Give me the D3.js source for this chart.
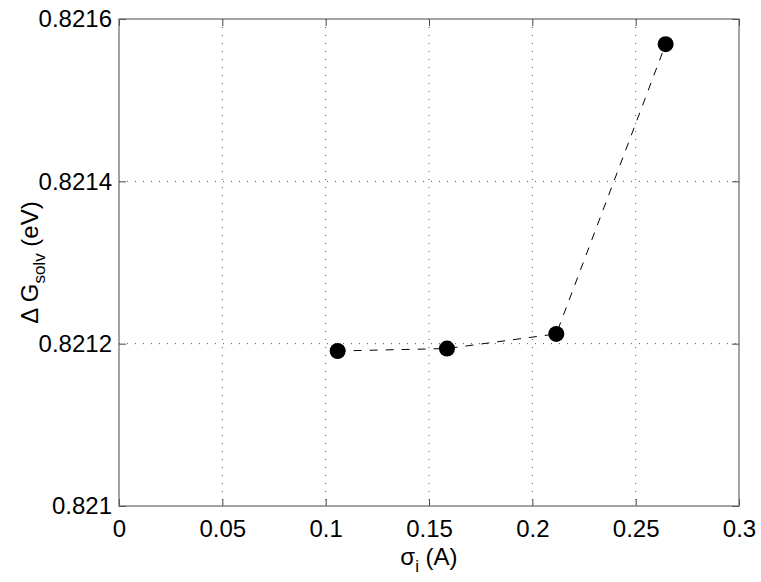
<!DOCTYPE html>
<html>
<head>
<meta charset="utf-8">
<script src="https://cdn.jsdelivr.net/npm/d3@7"></script>
<style>
  body { margin: 0; background: #fff; }
  text { font-family: "Liberation Sans", Arial, sans-serif; fill: #000; }
</style>
</head>
<body>
<svg></svg>
<script>
// sigma_i values (A) and solvation free energy (eV)
let sigma = [0.1058, 0.1587, 0.2116, 0.2645]
let dG = [0.821191, 0.821194, 0.821212, 0.821569]

let xTicks = [0, 0.05, 0.1, 0.15, 0.2, 0.25, 0.3]
let yTicks = [0.821, 0.8212, 0.8214, 0.8216]

var svg = d3.select("svg")
    .attr("width", 761)
    .attr("height", 582)

var margin = {top: 19, right: 22, bottom: 76, left: 119}
var w = 761 - margin.left - margin.right
var h = 582 - margin.top - margin.bottom

var g = svg.append("g")
    .attr("transform", `translate(${margin.left}, ${margin.top})`)

let scX = d3.scaleLinear().domain([0, 0.3]).range([0, w])
let scY = d3.scaleLinear().domain([0.821, 0.8216]).range([h, 0])

// dotted grid
g.append("g").selectAll("line")
    .data(xTicks.slice(1, -1)).enter().append("line")
    .attr("x1", d => scX(d)).attr("x2", d => scX(d))
    .attr("y1", 0).attr("y2", h)
    .attr("stroke", "#555").attr("stroke-width", 1)
    .attr("stroke-dasharray", "1,7")

g.append("g").selectAll("line")
    .data(yTicks.slice(1, -1)).enter().append("line")
    .attr("y1", d => scY(d)).attr("y2", d => scY(d))
    .attr("x1", 0).attr("x2", w)
    .attr("stroke", "#555").attr("stroke-width", 1)
    .attr("stroke-dasharray", "1,7")

// axes, ticks pointing inward
let xAxis = d3.axisBottom(scX).tickValues(xTicks).tickSize(-7).tickPadding(14)
    .tickFormat(d => String(+d.toFixed(2)))
let yAxis = d3.axisLeft(scY).tickValues(yTicks).tickSize(-7).tickPadding(7)
    .tickFormat(d => String(+d.toFixed(4)))
let xTop = d3.axisTop(scX).tickValues(xTicks).tickSize(-7).tickFormat("")
let yRight = d3.axisRight(scY).tickValues(yTicks).tickSize(-7).tickFormat("")

g.append("g").attr("class", "ax").attr("transform", `translate(0, ${h})`).call(xAxis)
g.append("g").attr("class", "ax").call(yAxis)
g.append("g").attr("class", "ax").call(xTop)
g.append("g").attr("class", "ax").attr("transform", `translate(${w}, 0)`).call(yRight)

g.selectAll(".ax line").attr("stroke", "#444")
g.selectAll(".ax text").style("font-size", "24px").attr("fill", "#000")
g.selectAll(".ax .domain").remove()

// box frame
g.append("rect")
    .attr("x", 0).attr("y", 0).attr("width", w).attr("height", h)
    .attr("fill", "none").attr("stroke", "#666").attr("stroke-width", 1.2)

// dashed line and markers
let valueLine = d3.line()
    .x((d, i) => scX(sigma[i]))
    .y(d => scY(d))

g.append("path")
    .datum(dG)
    .attr("d", valueLine)
    .attr("fill", "none")
    .attr("stroke", "#000")
    .attr("stroke-width", 1)
    .attr("stroke-dasharray", "8,8")

g.selectAll("circle")
    .data(dG).enter().append("circle")
    .attr("cx", (d, i) => scX(sigma[i]))
    .attr("cy", d => scY(d))
    .attr("r", 8)
    .attr("fill", "#000")

// axis labels
let xl = svg.append("text")
    .attr("x", margin.left + w / 2)
    .attr("y", 565)
    .attr("text-anchor", "middle")
    .style("font-size", "24px")
xl.append("tspan").text("σ")
xl.append("tspan").attr("dy", 7).style("font-size", "17px").text("i")
xl.append("tspan").attr("dy", -7).text(" (A)")

let yl = svg.append("text")
    .attr("transform", `translate(38, ${margin.top + h / 2}) rotate(-90)`)
    .attr("text-anchor", "middle")
    .style("font-size", "24px")
yl.append("tspan").text("Δ G")
yl.append("tspan").attr("dy", 7).style("font-size", "17px").text("solv")
yl.append("tspan").attr("dy", -7).text(" (eV)")
</script>
</body>
</html>
